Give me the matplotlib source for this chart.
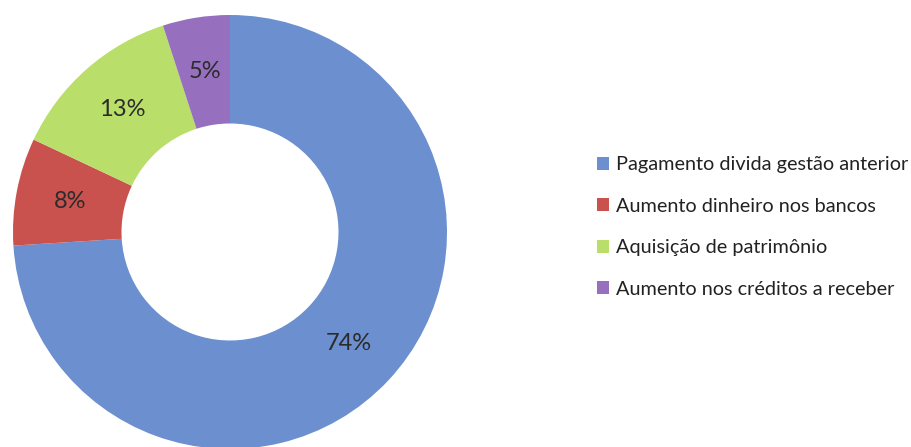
import matplotlib
matplotlib.use("Agg")
import matplotlib.pyplot as plt

plt.rcParams['font.family'] = ['Lato', 'DejaVu Sans']

# Dados
categorias = [
    "Pagamento divida gestão anterior",
    "Aumento dinheiro nos bancos",
    "Aquisição de patrimônio",
    "Aumento nos créditos a receber",
]
percentuais = [74, 8, 13, 5]
cores = ["#6b8fcf", "#c9524f", "#bade6a", "#9670be"]

fig = plt.figure(figsize=(9.11, 4.47), dpi=100)
ax = fig.add_axes([13 / 911, -2 / 447, 434 / 911, 434 / 447])

wedges, textos, autotextos = ax.pie(
    percentuais,
    colors=cores,
    startangle=90,
    counterclock=False,
    radius=1,
    autopct='%1.0f%%',
    pctdistance=0.75,
    wedgeprops=dict(width=0.5, edgecolor='none'),
    textprops=dict(fontsize=17, color='#2b2b2b'),
)
ax.set_xlim(-1, 1)
ax.set_ylim(-1, 1)
ax.axis('off')

fig.legend(
    wedges, categorias,
    loc='center left',
    bbox_to_anchor=(597 / 911, 1 - 227 / 447),
    frameon=False,
    fontsize=14.3,
    handlelength=0.6,
    handleheight=0.6,
    handletextpad=0.35,
    labelspacing=1.23,
    borderpad=0,
    borderaxespad=0,
    labelcolor='#222222',
)

fig.savefig("out.png", dpi=100)
